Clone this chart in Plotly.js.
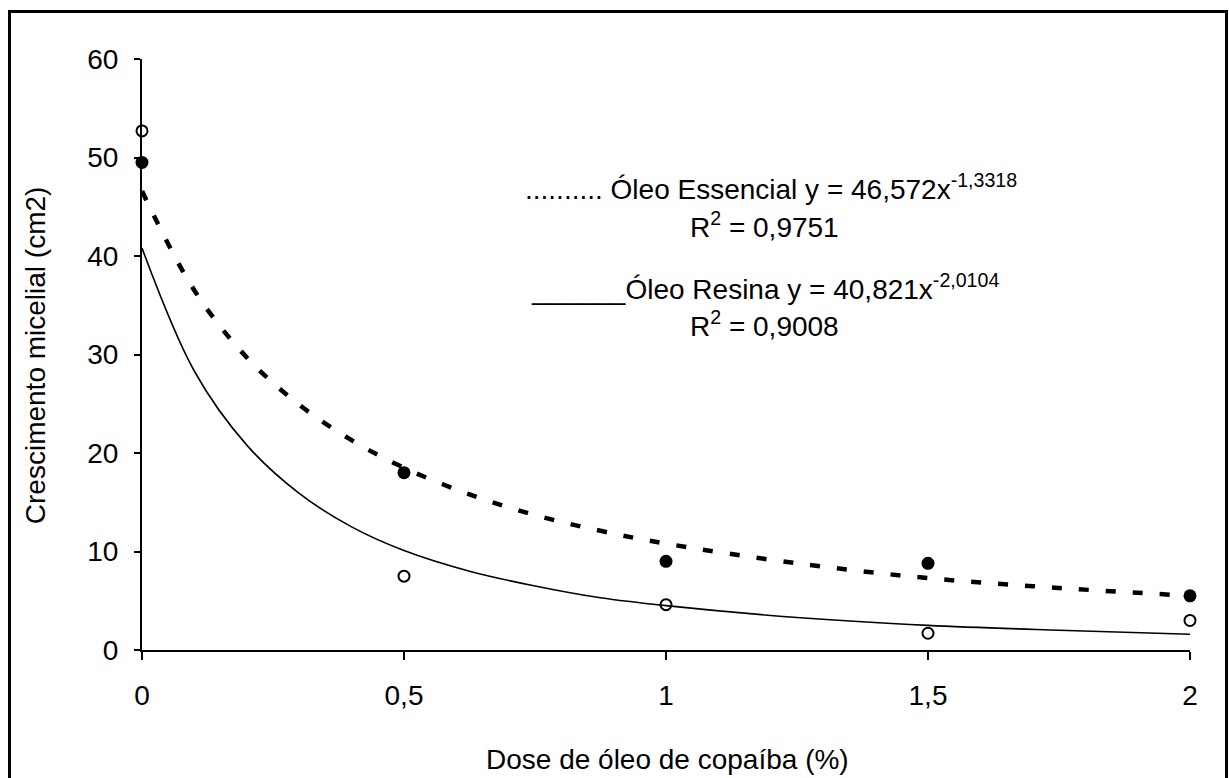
<!DOCTYPE html>
<html>
<head>
<meta charset="utf-8">
<script src="https://cdn.plot.ly/plotly-3.0.1.min.js"></script>
<style>
html,body{margin:0;padding:0;overflow:hidden;background:#fff;}
#chart{position:absolute;left:0;top:0;width:1229px;height:778px;}
#frame{position:absolute;left:8px;top:10px;width:1214px;height:800px;border:3px solid #000;pointer-events:none;}
</style>
</head>
<body>
<div id="chart"></div>
<div id="frame"></div>
<script>
// Doses (%)
const doses = [0, 0.5, 1, 1.5, 2];
const tickLabels = ["0", "0,5", "1", "1,5", "2"];
// Observed values (cm2)
const essencial = [49.5, 18.0, 9.0, 8.8, 5.5];
const resina = [52.7, 7.5, 4.6, 1.7, 3.0];

// Trend curves
const trendX = [0, 0.1, 0.2, 0.3, 0.4, 0.5, 0.625, 0.75, 0.875, 1, 1.25, 1.5, 1.75, 2];
const trendEssencial = [46.6, 36.5, 29.7, 24.9, 21.3, 18.5, 15.8, 13.7, 12.1, 10.8, 8.8, 7.3, 6.3, 5.5];
const trendResina = [40.8, 28.3, 20.8, 15.9, 12.5, 10.1, 8.0, 6.5, 5.3, 4.5, 3.3, 2.5, 2.0, 1.6];

const FONT = "Arial, 'Liberation Sans', sans-serif";
const FS = 28;

const traces = [
  {x: trendX, y: trendResina, mode: 'lines', line: {color: '#000', width: 1.6, shape: 'spline'}, hoverinfo: 'skip'},
  {x: trendX, y: trendEssencial, mode: 'lines', line: {color: '#000', width: 4.5, dash: '10px,17px', shape: 'spline'}, hoverinfo: 'skip'},
  {x: doses, y: essencial, mode: 'markers', cliponaxis: false,
   marker: {symbol: 'circle', size: 13, color: '#000', line: {color: '#000', width: 0}}},
  {x: doses, y: resina, mode: 'markers', cliponaxis: false,
   marker: {symbol: 'circle-open', size: 11, color: '#000', line: {color: '#000', width: 2}}}
];

const layout = {
  width: 1229, height: 778,
  margin: {l: 142, r: 39, t: 59, b: 128},
  paper_bgcolor: '#fff', plot_bgcolor: '#fff',
  showlegend: false,
  font: {family: FONT, size: FS, color: '#000'},
  xaxis: {
    range: [0, 2], tickvals: doses, ticktext: tickLabels,
    showline: true, linecolor: '#000', linewidth: 2,
    ticks: 'outside', ticklen: 8, tickwidth: 2, tickcolor: '#000',
    showgrid: false, zeroline: false, ticklabelstandoff: 11,
    tickfont: {family: FONT, size: FS, color: '#000'}
  },
  yaxis: {
    range: [0, 60], dtick: 10,
    showline: true, linecolor: '#000', linewidth: 2,
    ticks: 'outside', ticklen: 6, tickwidth: 2, tickcolor: '#000',
    showgrid: false, zeroline: false, ticklabelstandoff: 10,
    tickfont: {family: FONT, size: FS, color: '#000'}
  },
  annotations: [
    {xref: 'paper', yref: 'paper', x: -0.102, y: 0.499, textangle: -90, showarrow: false,
     xanchor: 'center', yanchor: 'middle', text: 'Crescimento micelial (cm2)', font: {family: FONT, size: FS, color: '#000'}},
    {xref: 'paper', yref: 'paper', x: 0.501, y: -0.186, showarrow: false,
     xanchor: 'center', yanchor: 'middle', text: 'Dose de óleo de copaíba (%)', font: {family: FONT, size: FS, color: '#000'}},
    {xref: 'paper', yref: 'paper', x: 0.600, y: 0.783, showarrow: false,
     xanchor: 'center', yanchor: 'middle', text: '.......... Óleo Essencial y = 46,572x<sup>-1,3318</sup>', font: {family: FONT, size: FS, color: '#000'}},
    {xref: 'paper', yref: 'paper', x: 0.594, y: 0.719, showarrow: false,
     xanchor: 'center', yanchor: 'middle', text: 'R<sup>2</sup> = 0,9751', font: {family: FONT, size: FS, color: '#000'}},
    {xref: 'paper', yref: 'paper', x: 0.594, y: 0.614, showarrow: false,
     xanchor: 'center', yanchor: 'middle', text: '______Óleo Resina y = 40,821x<sup>-2,0104</sup>', font: {family: FONT, size: FS, color: '#000'}},
    {xref: 'paper', yref: 'paper', x: 0.594, y: 0.5515, showarrow: false,
     xanchor: 'center', yanchor: 'middle', text: 'R<sup>2</sup> = 0,9008', font: {family: FONT, size: FS, color: '#000'}}
  ]
};

Plotly.newPlot('chart', traces, layout, {displayModeBar: false, staticPlot: true});
</script>
</body>
</html>
